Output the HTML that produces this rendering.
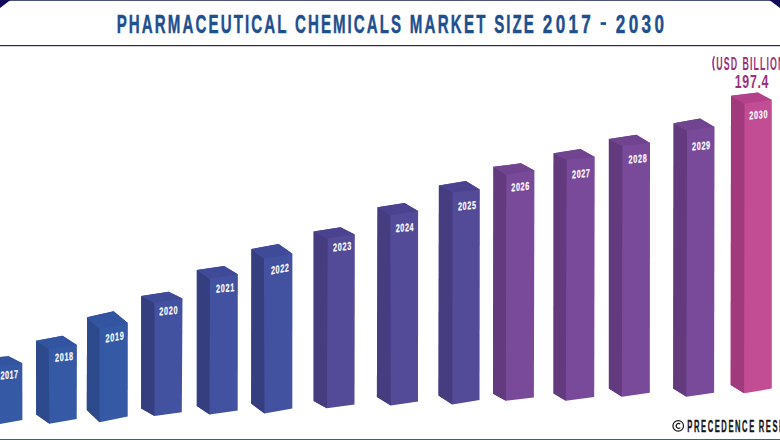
<!DOCTYPE html>
<html><head><meta charset="utf-8">
<style>
html,body{margin:0;padding:0;background:#fff;}
body{width:780px;height:440px;overflow:hidden;position:relative;}
svg{position:absolute;left:0;top:0;}
text{font-family:"Liberation Sans",sans-serif;font-weight:bold;}
.tt{font-size:26px;fill:#1e4f8e;stroke:#1e4f8e;stroke-width:0.45px;}
</style></head><body>
<svg width="780" height="440" viewBox="0 0 780 440">
<rect x="0" y="0" width="780" height="440" fill="#fff"/>
<rect x="0" y="0" width="780" height="1" fill="#4d5280"/>
<polygon points="0,0 10.5,0 0,8" fill="#120a5a"/>
<polygon points="769.3,0 780,0 780,8" fill="#120a5a"/>
<rect x="0" y="45" width="780" height="1.2" fill="#2a2270"/>
<text transform="translate(116.68,32.6) scale(0.58,1)" letter-spacing="3.64" class="tt">PHARMACEUTICAL</text>
<text transform="translate(295.08,32.6) scale(0.58,1)" letter-spacing="3.5" class="tt">CHEMICALS</text>
<text transform="translate(409.68,32.6) scale(0.58,1)" letter-spacing="3.92" class="tt">MARKET</text>
<text transform="translate(494.28,32.6) scale(0.58,1)" letter-spacing="3.46" class="tt">SIZE</text>
<text transform="translate(542.86,32.6) scale(0.66,1)" letter-spacing="4.97" class="tt">2017</text>
<text transform="translate(615.76,32.6) scale(0.66,1)" letter-spacing="5.07" class="tt">2030</text>
<rect x="600.6" y="22.2" width="5.5" height="2.7" fill="#1e4f8e"/>
<polygon points="-18.5,358.8 8.6,356.2 22.3,363.2 22.4,420.0 -5.7,425.0 -18.5,415.5" fill="#3559a4"/>
<polygon points="-18.5,358.8 -5.7,367.2 -5.7,425.0 -18.5,415.5" fill="#2c4a8c"/>
<polygon points="-18.5,358.8 8.6,356.2 22.3,363.2 -5.7,367.2" fill="#3354a0"/>
<text transform="translate(0.40,379.40) skewY(-4.80) scale(0.64,1)" letter-spacing="0.768" style="font-size:11.3px;fill:#fff" stroke="#fff" stroke-width="0.2">2017</text>
<polygon points="36.0,340.7 62.6,335.7 76.9,345.1 76.7,419.1 49.4,423.8 36.2,414.5" fill="#3559a4"/>
<polygon points="36.0,340.7 48.7,349.1 49.4,423.8 36.2,414.5" fill="#2c4a8c"/>
<polygon points="36.0,340.7 62.6,335.7 76.9,345.1 48.7,349.1" fill="#3354a0"/>
<text transform="translate(55.10,361.80) skewY(-5.99) scale(0.64,1)" letter-spacing="0.976" style="font-size:11.3px;fill:#fff" stroke="#fff" stroke-width="0.2">2018</text>
<polygon points="87.1,317.3 113.6,311.2 127.8,323.0 127.7,416.4 99.5,422.3 86.8,410.0" fill="#3559a4"/>
<polygon points="87.1,317.3 99.5,329.1 99.5,422.3 86.8,410.0" fill="#2c4a8c"/>
<polygon points="87.1,317.3 113.6,311.2 127.8,323.0 99.5,329.1" fill="#3354a0"/>
<text transform="translate(105.50,342.40) skewY(-9.14) scale(0.64,1)" letter-spacing="1.184" style="font-size:11.3px;fill:#fff" stroke="#fff" stroke-width="0.2">2019</text>
<polygon points="141.2,295.9 168.6,291.8 182.5,298.6 181.8,412.3 154.5,415.9 141.1,408.6" fill="#4352a0"/>
<polygon points="141.2,295.9 154.5,302.7 154.5,415.9 141.1,408.6" fill="#353f80"/>
<polygon points="141.2,295.9 168.6,291.8 182.5,298.6 154.5,302.7" fill="#3f4b98"/>
<text transform="translate(159.20,315.40) skewY(-4.80) scale(0.64,1)" letter-spacing="1.184" style="font-size:11.3px;fill:#fff" stroke="#fff" stroke-width="0.2">2020</text>
<polygon points="196.8,270.0 224.1,265.9 237.8,274.2 237.7,410.5 209.5,414.5 196.8,405.9" fill="#4352a0"/>
<polygon points="196.8,270.0 209.9,279.1 209.5,414.5 196.8,405.9" fill="#353f80"/>
<polygon points="196.8,270.0 224.1,265.9 237.8,274.2 209.9,279.1" fill="#3f4b98"/>
<text transform="translate(216.10,292.80) skewY(-5.59) scale(0.64,1)" letter-spacing="1.080" style="font-size:11.3px;fill:#fff" stroke="#fff" stroke-width="0.2">2021</text>
<polygon points="251.4,249.1 278.6,244.1 292.4,253.7 292.3,408.6 264.5,413.6 251.2,403.6" fill="#4352a0"/>
<polygon points="251.4,249.1 263.9,258.7 264.5,413.6 251.2,403.6" fill="#353f80"/>
<polygon points="251.4,249.1 278.6,244.1 292.4,253.7 263.9,258.7" fill="#3f4b98"/>
<text transform="translate(270.90,274.60) skewY(-11.08) scale(0.64,1)" letter-spacing="0.976" style="font-size:11.3px;fill:#fff" stroke="#fff" stroke-width="0.2">2022</text>
<polygon points="313.6,231.4 340.5,227.3 354.8,234.5 354.5,404.5 326.8,408.2 313.6,400.9" fill="#534a98"/>
<polygon points="313.6,231.4 327.7,238.2 326.8,408.2 313.6,400.9" fill="#463c80"/>
<polygon points="313.6,231.4 340.5,227.3 354.8,234.5 327.7,238.2" fill="#4b4390"/>
<text transform="translate(332.90,251.40) skewY(-5.19) scale(0.64,1)" letter-spacing="1.184" style="font-size:11.3px;fill:#fff" stroke="#fff" stroke-width="0.2">2023</text>
<polygon points="377.5,207.3 404.5,203.0 418.1,211.0 418.0,401.5 390.8,405.4 376.9,396.9" fill="#534a98"/>
<polygon points="377.5,207.3 390.3,215.3 390.8,405.4 376.9,396.9" fill="#463c80"/>
<polygon points="377.5,207.3 404.5,203.0 418.1,211.0 390.3,215.3" fill="#4b4390"/>
<text transform="translate(395.70,232.20) skewY(-4.40) scale(0.64,1)" letter-spacing="0.924" style="font-size:11.3px;fill:#fff" stroke="#fff" stroke-width="0.2">2024</text>
<polygon points="438.9,185.5 465.9,181.1 479.8,189.6 479.5,400.0 452.3,404.6 438.5,395.4" fill="#534a98"/>
<polygon points="438.9,185.5 452.4,192.4 452.3,404.6 438.5,395.4" fill="#463c80"/>
<polygon points="438.9,185.5 465.9,181.1 479.8,189.6 452.4,192.4" fill="#4b4390"/>
<text transform="translate(457.90,210.40) skewY(-4.80) scale(0.64,1)" letter-spacing="1.080" style="font-size:11.3px;fill:#fff" stroke="#fff" stroke-width="0.2">2025</text>
<polygon points="493.4,166.8 520.9,163.2 534.4,170.6 533.9,397.4 505.8,400.8 493.0,393.8" fill="#7a4a9a"/>
<polygon points="493.4,166.8 506.3,174.7 505.8,400.8 493.0,393.8" fill="#633a7e"/>
<polygon points="493.4,166.8 520.9,163.2 534.4,170.6 506.3,174.7" fill="#70448f"/>
<text transform="translate(511.20,191.40) skewY(-5.59) scale(0.64,1)" letter-spacing="1.080" style="font-size:11.3px;fill:#fff" stroke="#fff" stroke-width="0.2">2026</text>
<polygon points="553.6,153.2 580.5,149.1 594.7,157.0 594.2,396.9 565.8,400.8 553.5,393.4" fill="#7a4a9a"/>
<polygon points="553.6,153.2 566.7,160.1 565.8,400.8 553.5,393.4" fill="#633a7e"/>
<polygon points="553.6,153.2 580.5,149.1 594.7,157.0 566.7,160.1" fill="#70448f"/>
<text transform="translate(572.10,178.40) skewY(-5.19) scale(0.64,1)" letter-spacing="0.872" style="font-size:11.3px;fill:#fff" stroke="#fff" stroke-width="0.2">2027</text>
<polygon points="608.9,139.1 636.4,134.8 650.0,143.0 649.8,392.7 621.8,396.8 608.9,388.6" fill="#7a4a9a"/>
<polygon points="608.9,139.1 622.5,146.1 621.8,396.8 608.9,388.6" fill="#633a7e"/>
<polygon points="608.9,139.1 636.4,134.8 650.0,143.0 622.5,146.1" fill="#70448f"/>
<text transform="translate(628.60,163.50) skewY(-5.19) scale(0.64,1)" letter-spacing="1.080" style="font-size:11.3px;fill:#fff" stroke="#fff" stroke-width="0.2">2028</text>
<polygon points="673.6,123.2 700.0,118.6 714.5,127.0 714.1,392.7 686.4,396.8 673.2,388.6" fill="#7a4a9a"/>
<polygon points="673.6,123.2 687.0,130.8 686.4,396.8 673.2,388.6" fill="#633a7e"/>
<polygon points="673.6,123.2 700.0,118.6 714.5,127.0 687.0,130.8" fill="#70448f"/>
<text transform="translate(692.10,150.40) skewY(-4.40) scale(0.64,1)" letter-spacing="0.976" style="font-size:11.3px;fill:#fff" stroke="#fff" stroke-width="0.2">2029</text>
<polygon points="731.0,95.7 757.8,92.4 771.8,99.9 771.8,388.6 744.1,393.2 730.7,385.0" fill="#c24d95"/>
<polygon points="731.0,95.7 744.5,103.8 744.1,393.2 730.7,385.0" fill="#a03a7c"/>
<polygon points="731.0,95.7 757.8,92.4 771.8,99.9 744.5,103.8" fill="#b4428a"/>
<text transform="translate(749.30,119.40) skewY(-4.40) scale(0.64,1)" letter-spacing="1.080" style="font-size:11.3px;fill:#fff" stroke="#fff" stroke-width="0.2">2030</text>
<path d="M714.3,56.2 Q711.6,63.3 714.3,70.4" fill="none" stroke="#9a2f7e" stroke-width="1.5"/><text transform="translate(716.30,69.60) scale(0.5,1)" letter-spacing="2.200" style="font-size:17.6px;fill:#9a2f7e" >USD</text>
<text transform="translate(742.60,69.60) scale(0.5,1)" letter-spacing="2.200" style="font-size:17.6px;fill:#9a2f7e" >BILLION)</text>
<text transform="translate(734.80,87.90) scale(0.7,1)" letter-spacing="1.000" style="font-size:17.6px;fill:#9a2f7e" >197.4</text>
<circle cx="678.2" cy="425.9" r="5.3" fill="none" stroke="#161616" stroke-width="1.2"/>
<path d="M680.3,424.2 A2.4,2.4 0 1 0 680.3,427.6" fill="none" stroke="#161616" stroke-width="1.1"/>
<text transform="translate(687.34,431.50) scale(0.48,1)" letter-spacing="3.297" style="font-size:15.8px;fill:#161616" stroke="#161616" stroke-width="0.35">PRECEDENCE</text>
<text transform="translate(758.74,431.50) scale(0.48,1)" letter-spacing="3.297" style="font-size:15.8px;fill:#161616" stroke="#161616" stroke-width="0.35">RESEARCH</text>
<rect x="0" y="439" width="780" height="1" fill="#4a5a80"/>
</svg>
</body></html>
